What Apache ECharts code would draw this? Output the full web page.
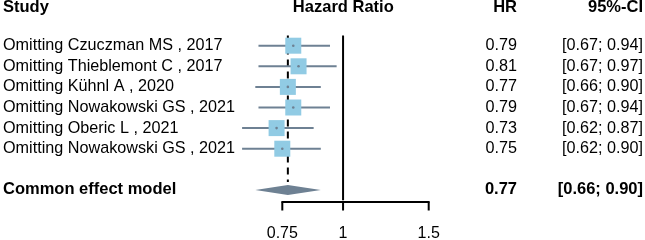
<!DOCTYPE html>
<html><head><meta charset="utf-8">
<script src="https://cdn.jsdelivr.net/npm/echarts@6/dist/echarts.min.js"></script>
<style>html,body{margin:0;padding:0;background:#fff}#c{width:645px;height:240px}</style>
</head><body><div id="c"></div>
<script>
// ---- data ----
const studies = ['Omitting Czuczman MS , 2017','Omitting Thieblemont C , 2017','Omitting Kühnl A , 2020','Omitting Nowakowski GS , 2021','Omitting Oberic L , 2021','Omitting Nowakowski GS , 2021'];
const hr = [0.79, 0.81, 0.77, 0.79, 0.73, 0.75];
const ciLow = [0.67, 0.67, 0.66, 0.67, 0.62, 0.62];
const ciHigh = [0.94, 0.97, 0.90, 0.94, 0.87, 0.90];
const pooledLabel = 'Common effect model';
const pooledHR = [0.77];
const pooledLow = [0.66];
const pooledHigh = [0.90];
const tickValues = [0.75, 1, 1.5];
const tickLabels = ['0.75', '1', '1.5'];
const headers = ['Study', 'Hazard Ratio', 'HR', '95%-CI'];
const refValue = 1;

// ---- build ----
const FONT = 'Liberation Sans, Arial, sans-serif';
const nRows = studies.length + 2;
const pooledRow = studies.length + 1;
const fmt = v => v.toFixed(2);
const ciText = (l, h) => '[' + fmt(l) + '; ' + fmt(h) + ']';
const LABEL_PAD = [4, 0, 0, 0];
const bold = align => ({fontWeight: 'bold', fontSize: 16.5, align, color: '#000', fontFamily: FONT, padding: LABEL_PAD});

const studyCats = studies.map(s => ({value: s})).concat([{value: ''}, {value: pooledLabel, textStyle: bold('left')}]);
const hrCats = hr.map(v => ({value: fmt(v)})).concat([{value: ''}, {value: fmt(pooledHR[0]), textStyle: bold('right')}]);
const ciCats = ciLow.map((l, i) => ({value: ciText(l, ciHigh[i])})).concat([{value: ''}, {value: ciText(pooledLow[0], pooledHigh[0]), textStyle: bold('right')}]);

const studyData = hr.map((v, i) => [i, v, ciLow[i], ciHigh[i]]);
const pooledData = [[pooledRow, pooledHR[0], pooledLow[0], pooledHigh[0]]];
const tickData = tickValues.map((v, i) => [v, tickLabels[i]]);

const GRID = {left: 282.3, right: 216.3, top: 35.4, bottom: 39.8};
const AXIS_OFFSET = 1.3;
const lineCol = '#6e8193';
const sqCol = '#91cbe4';

const catAxis = (data, position, margin, align) => ({
  type: 'category', data, inverse: true, position, gridIndex: 0,
  axisLine: {show: false}, axisTick: {show: false}, splitLine: {show: false},
  axisLabel: {interval: 0, margin, align, color: '#000', fontSize: 16.2, fontFamily: FONT, hideOverlap: false, padding: LABEL_PAD}
});

const chart = echarts.init(document.getElementById('c'), null, {renderer: 'canvas'});
chart.setOption({
  animation: false,
  backgroundColor: '#fff',
  textStyle: {fontFamily: FONT},
  title: [
    {text: headers[0], left: 3, top: -1.5, padding: 0, textStyle: {fontSize: 16.5, fontWeight: 'bold', color: '#000', fontFamily: FONT}},
    {text: headers[1], left: 343.3, textAlign: 'center', top: -1.5, padding: 0, textStyle: {fontSize: 16.5, fontWeight: 'bold', color: '#000', fontFamily: FONT}},
    {text: headers[2], right: 128, top: -1.5, padding: 0, textStyle: {fontSize: 16.5, fontWeight: 'bold', color: '#000', fontFamily: FONT}},
    {text: headers[3], right: 2, top: -1.5, padding: 0, textStyle: {fontSize: 16.5, fontWeight: 'bold', color: '#000', fontFamily: FONT}}
  ],
  grid: Object.assign({containLabel: false, outerBoundsMode: 'none'}, GRID),
  xAxis: {
    type: 'log', min: tickValues[0], max: tickValues[tickValues.length - 1], offset: AXIS_OFFSET,
    axisLine: {show: true, onZero: false, lineStyle: {color: '#000', width: 2}},
    axisTick: {show: false}, axisLabel: {show: false}, splitLine: {show: false}
  },
  yAxis: [
    {type: 'value', min: -0.5, max: nRows - 0.5, inverse: true, show: false},
    catAxis(studyCats, 'left', GRID.left - 3, 'left'),
    catAxis(hrCats, 'right', 517 - (645 - GRID.right), 'right'),
    catAxis(ciCats, 'right', 643 - (645 - GRID.right), 'right')
  ],
  series: [
    {
      type: 'line', yAxisIndex: 0, symbol: 'none', silent: true, z: 1,
      data: [[refValue, -0.5], [refValue, nRows - 0.5]],
      lineStyle: {color: '#000', width: 2}
    },
    {
      type: 'custom', yAxisIndex: 0, clip: false, z: 2, data: pooledData,
      encode: {x: [1, 2, 3], y: 0},
      renderItem: (params, api) => {
        const row = api.value(0), est = api.value(1), lo = api.value(2), hi = api.value(3);
        const pE = api.coord([est, row]), pL = api.coord([lo, row]), pH = api.coord([hi, row]);
        const top = api.coord([est, -0.5]);
        const h = 5;
        return {type: 'group', children: [
          {type: 'line', shape: {x1: top[0], y1: top[1], x2: pE[0], y2: pE[1] - h - 3},
           style: {stroke: '#000', lineWidth: 2, lineDash: [7, 5]}},
          {type: 'polygon', shape: {points: [[pL[0], pL[1]], [pE[0], pE[1] - h], [pH[0], pH[1]], [pE[0], pE[1] + h]]},
           style: {fill: lineCol}}
        ]};
      }
    },
    {
      type: 'custom', yAxisIndex: 0, clip: false, z: 3, data: studyData,
      encode: {x: [1, 2, 3], y: 0},
      renderItem: (params, api) => {
        const row = api.value(0), est = api.value(1), lo = api.value(2), hi = api.value(3);
        const pE = api.coord([est, row]), pL = api.coord([lo, row]), pH = api.coord([hi, row]);
        const s = 16;
        return {type: 'group', children: [
          {type: 'line', shape: {x1: pL[0], y1: pL[1], x2: pH[0], y2: pH[1]}, style: {stroke: lineCol, lineWidth: 2}},
          {type: 'rect', shape: {x: pE[0] - s / 2, y: pE[1] - s / 2, width: s, height: s}, style: {fill: sqCol}},
          {type: 'circle', shape: {cx: pE[0], cy: pE[1], r: 1.3}, style: {fill: lineCol}}
        ]};
      }
    },
    {
      type: 'custom', yAxisIndex: 0, clip: false, z: 3, data: tickData,
      encode: {x: 0},
      renderItem: (params, api) => {
        const p = api.coord([api.value(0), nRows - 0.5]);
        const y = p[1] + AXIS_OFFSET;
        return {type: 'group', children: [
          {type: 'line', shape: {x1: p[0], y1: y, x2: p[0], y2: y + 9}, style: {stroke: '#000', lineWidth: 2}},
          {type: 'text', x: p[0], y: y + 32,
           style: {text: tickLabels[params.dataIndex], align: 'center', verticalAlign: 'middle', fontSize: 16, fontFamily: FONT, fill: '#000'}}
        ]};
      }
    }
  ]
});
</script>
</body></html>
